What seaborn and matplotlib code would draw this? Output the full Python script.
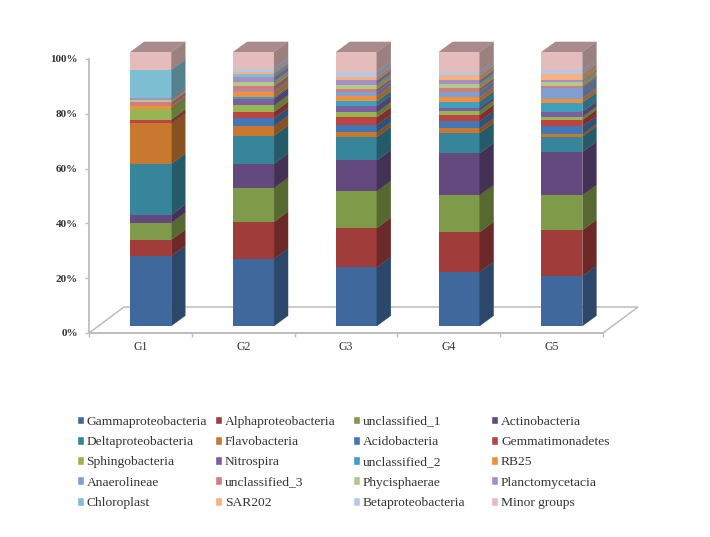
import numpy as np
import matplotlib
matplotlib.use("Agg")
import matplotlib.pyplot as plt
from matplotlib.patches import Polygon, Patch, Rectangle
from matplotlib.colors import to_rgb
import seaborn as sns

groups = ["G1", "G2", "G3", "G4", "G5"]
taxa = ["Gammaproteobacteria", "Alphaproteobacteria", "unclassified_1", "Actinobacteria",
        "Deltaproteobacteria", "Flavobacteria", "Acidobacteria", "Gemmatimonadetes",
        "Sphingobacteria", "Nitrospira", "unclassified_2", "RB25",
        "Anaerolineae", "unclassified_3", "Phycisphaerae", "Planctomycetacia",
        "Chloroplast", "SAR202", "Betaproteobacteria", "Minor groups"]
colors = ["#3F689C", "#A03C3A", "#7F9A48", "#64497F", "#36859A", "#C8782F", "#4177B5", "#BC4542",
          "#97B552", "#7B5FA0", "#3FA0BE", "#F0903C", "#7F9FD0", "#CF7F7D", "#B2C98B", "#A68FC4",
          "#7FBFD4", "#F7B07F", "#B9C7E5", "#E4BCBC"]

gamma = [25.5, 24.5, 21.5, 19.7, 18.2]
alpha = [5.9, 13.5, 14.3, 14.6, 16.8]
uncl1 = [6.2, 12.4, 13.5, 13.5, 12.8]
actino = [2.9, 8.8, 11.2, 15.3, 15.8]
delta = [18.6, 10.2, 8.5, 7.4, 5.6]
flavo = [14.8, 3.6, 1.7, 1.7, 0.9]
acido = [0.1, 2.8, 2.7, 2.6, 2.8]
gemma = [1.2, 2.3, 2.8, 2.3, 2.4]
sphingo = [3.9, 2.4, 1.8, 1.6, 1.1]
nitro = [0.1, 2.4, 2.4, 1.1, 1.9]
uncl2 = [0.1, 0.6, 1.7, 2.2, 3.3]
rb25 = [0.8, 1.8, 1.8, 1.5, 1.5]
anaero = [0.2, 0.6, 1.5, 2.1, 3.9]
uncl3 = [1.2, 1.7, 1.2, 1.2, 0.6]
phyci = [1.0, 1.5, 1.6, 1.7, 1.6]
plancto = [0.7, 1.8, 1.5, 1.3, 0.5]
chloro = [10.1, 1.1, 0.1, 0.1, 0.1]
sar = [0.1, 0.7, 1.2, 1.7, 2.4]
beta = [0.1, 1.2, 1.8, 1.2, 1.2]
minor = [6.4, 6.1, 7.3, 7.3, 6.7]
series = [gamma, alpha, uncl1, actino, delta, flavo, acido, gemma, sphingo, nitro,
          uncl2, rb25, anaero, uncl3, phyci, plancto, chloro, sar, beta, minor]
yticks = [0, 20, 40, 60, 80, 100]

sns.set_theme(style="white")
plt.rcParams["font.family"] = ["Liberation Serif", "DejaVu Serif"]

W, H = 710, 537
fig = plt.figure(figsize=(W / 100, H / 100), dpi=100, facecolor="white")
ax = fig.add_axes([89 / W, 1 - 333 / H, (603 - 89) / W, (333 - 59) / H])

vals = np.array(series, dtype=float)
shares = vals / vals.sum(axis=0) * 100
bottoms = np.zeros(len(groups))
for row, c in zip(shares, colors):
    sns.barplot(x=groups, y=row, bottom=bottoms, color=c, width=0.4, saturation=1, ax=ax, zorder=3)
    bottoms = bottoms + row

ax.set_xlim(-0.5, 4.5)
ax.set_ylim(0, 100)

px_x = (4.5 + 0.5) / (603 - 89)
px_y = 100 / (333 - 59)
floor_dx, floor_dy = 35 * px_x, 26 * px_y
shift_x, shift_y = 10.3 * px_x, 7 * px_y
dx, dy = 14 * px_x, 10.3 * px_y

def shade(c, f):
    return tuple(v * f for v in to_rgb(c))

# floor of the 3D box
ax.add_patch(Polygon([(-0.5, 0), (-0.5 + floor_dx, floor_dy), (4.5 + floor_dx, floor_dy), (4.5, 0)],
                     closed=True, fill=False, edgecolor="#BDBDBD", lw=1.1, clip_on=False, zorder=1))

bars = [p for p in ax.patches if isinstance(p, Rectangle)]
for p in bars:
    p.set_x(p.get_x() + shift_x)
    p.set_y(p.get_y() + shift_y)
    p.set_linewidth(0)
    p.set_clip_on(False)
    x1 = p.get_x() + p.get_width()
    y0, y1 = p.get_y(), p.get_y() + p.get_height()
    side = shade(p.get_facecolor()[:3], 0.68)
    ax.add_patch(Polygon([(x1, y0), (x1 + dx, y0 + dy), (x1 + dx, y1 + dy), (x1, y1)], closed=True,
                         facecolor=side, edgecolor=side, lw=0.2, clip_on=False, zorder=3))

# top faces sit on the last series
for p in bars[-len(groups):]:
    x0, x1 = p.get_x(), p.get_x() + p.get_width()
    y1 = p.get_y() + p.get_height()
    ax.add_patch(Polygon([(x0, y1), (x0 + dx, y1 + dy), (x1 + dx, y1 + dy), (x1, y1)], closed=True,
                         facecolor=shade(colors[-1], 0.74), lw=0, clip_on=False, zorder=3))

for s in ["top", "right"]:
    ax.spines[s].set_visible(False)
for s in ["left", "bottom"]:
    ax.spines[s].set_color("#BDBDBD")
    ax.spines[s].set_linewidth(1.3)

ax.set_yticks(yticks)
ax.set_yticklabels([f"{t}%" for t in yticks], fontsize=8, color="#333333", fontweight="bold")
ax.set_xticks(range(len(groups)))
ax.set_xticklabels(groups, fontsize=8.5, color="#333333")
ax.tick_params(axis="x", length=0, pad=6)
ax.tick_params(axis="y", length=3, width=1, color="#BDBDBD", pad=5, left=True)
ax.set_xticks(np.arange(-0.5, 5), minor=True)
ax.tick_params(axis="x", which="minor", length=3, width=1, color="#BDBDBD", bottom=True)
ax.set_xlabel("")
ax.set_ylabel("")

# four single-column legends give the reference's column positions
col_x = [76.5, 215, 352.5, 491]
for k, xpos in enumerate(col_x):
    handles = [Patch(facecolor=colors[i], label=taxa[i]) for i in range(k, len(taxa), 4)]
    fig.legend(handles=handles, loc="upper left", bbox_to_anchor=(xpos / W, 1 - 415.5 / H),
               bbox_transform=fig.transFigure, frameon=False, fontsize=9.7, labelcolor="#333333",
               handlelength=0.55, handleheight=0.62, handletextpad=0.2, labelspacing=0.61,
               borderaxespad=0, borderpad=0)

fig.savefig("out.png", dpi=100)
